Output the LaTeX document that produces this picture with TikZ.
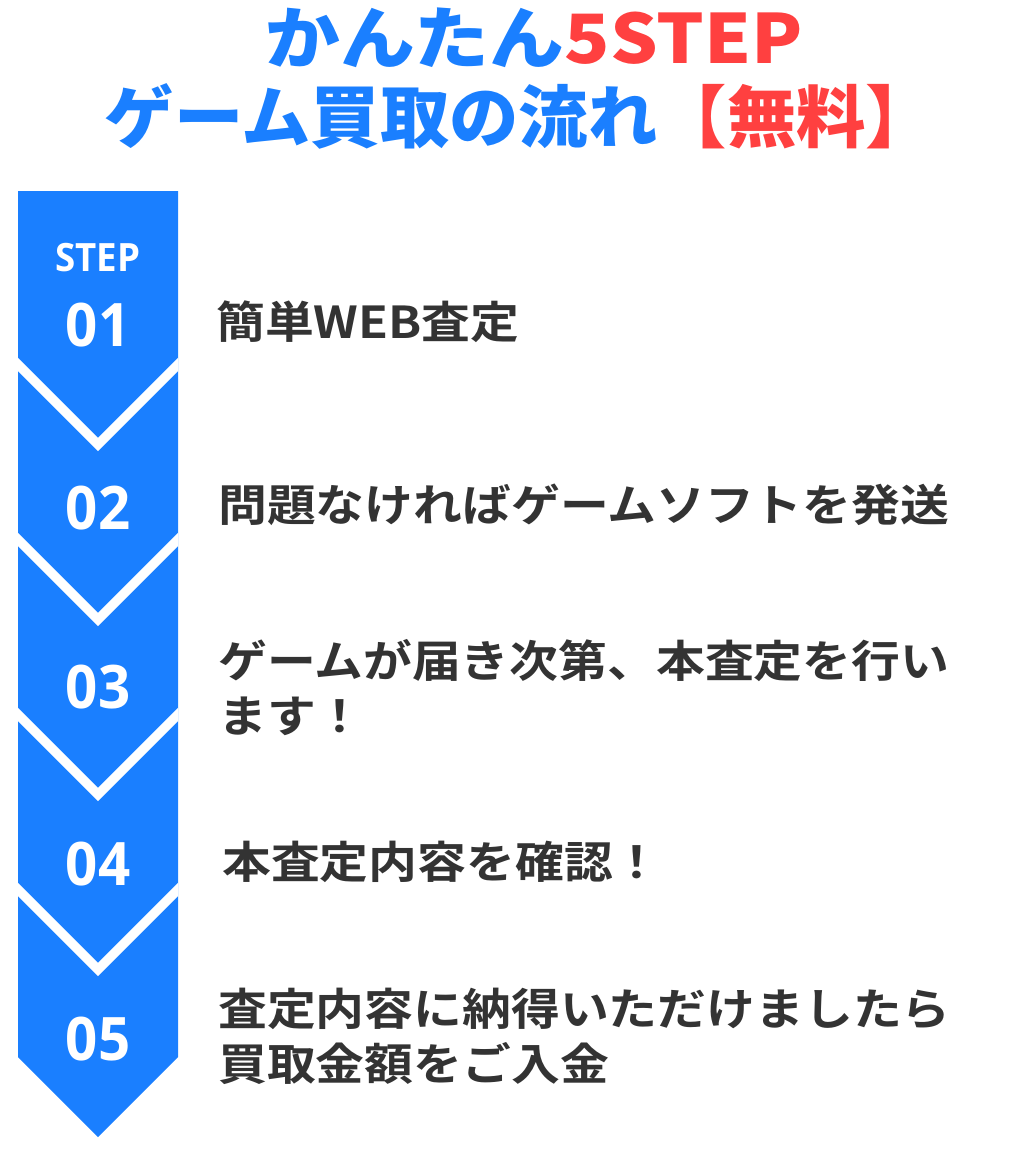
\documentclass[tikz,border=0pt]{standalone}
\usepackage{fontspec}
\setmainfont{Noto Sans CJK JP}
\newfontfamily\jpbold{Noto Sans CJK JP Bold}
\newfontfamily\jpblack{Noto Sans CJK JP Black}
\newfontfamily\numfont{Open Sans Bold}
\definecolor{stepblue}{HTML}{1A7FFF}
\definecolor{titlered}{HTML}{FF4040}
\definecolor{bodygray}{HTML}{333333}

\begin{document}
\begin{tikzpicture}[x=1pt,y=-1pt,
  steptext/.style={anchor=west,text=bodygray,font=\jpbold\fontsize{44}{55}\selectfont,align=left,inner sep=0pt,xscale=1.11},
  stepnum/.style={text=white,font=\numfont\fontsize{60}{60}\selectfont,inner sep=0pt,xscale=0.94},
  titleline/.style={font=\jpblack\fontsize{68}{68}\selectfont,inner sep=0pt}]

\useasboundingbox (0,0) rectangle (1024,1165);

% arrow band
\coordinate (top) at (18,191);
\fill[stepblue] (top) -- (178,191) -- (178,1057) -- (98,1137) -- (18,1057) -- cycle;
\begin{scope}
\clip (18,191) rectangle (178,1140);
\foreach \k in {0,...,3}
  \draw[white,line width=9.5pt,miter limit=10] (10,{356.5+175*\k}) -- (98,{444.5+175*\k}) -- (186,{356.5+175*\k});
\end{scope}

% numbers
\node[text=white,font=\numfont\fontsize{39}{39}\selectfont,inner sep=0pt,xscale=0.94] (steplabel) at (98,258) {STEP};
\node[stepnum] (n1) at (98,325) {01};
\node[stepnum] (n2) at (98,508) {02};
\node[stepnum] (n3) at (98,687) {03};
\node[stepnum] (n4) at (98,864) {04};
\node[stepnum] (n5) at (98,1039) {05};

% texts
\node[steptext] (t1) at (216,322) {簡単WEB査定};
\node[steptext] (t2) at (218,505) {問題なければゲームソフトを発送};
\node[steptext] (t3) at (218,688) {ゲームが届き次第、本査定を行い\\ます！};
\node[steptext] (t4) at (222,862) {本査定内容を確認！};
\node[steptext] (t5) at (218,1036) {査定内容に納得いただけましたら\\買取金額をご入金};

% title
\node[titleline,xscale=1.1] (title1) at (534,38) {\textcolor{stepblue}{かんたん}\textcolor{titlered}{5STEP}};
\node[titleline,xscale=1.02] (title2) at (520,116) {\textcolor{stepblue}{ゲーム買取の流れ}\textcolor{titlered}{【無料】}};

\end{tikzpicture}
\end{document}
